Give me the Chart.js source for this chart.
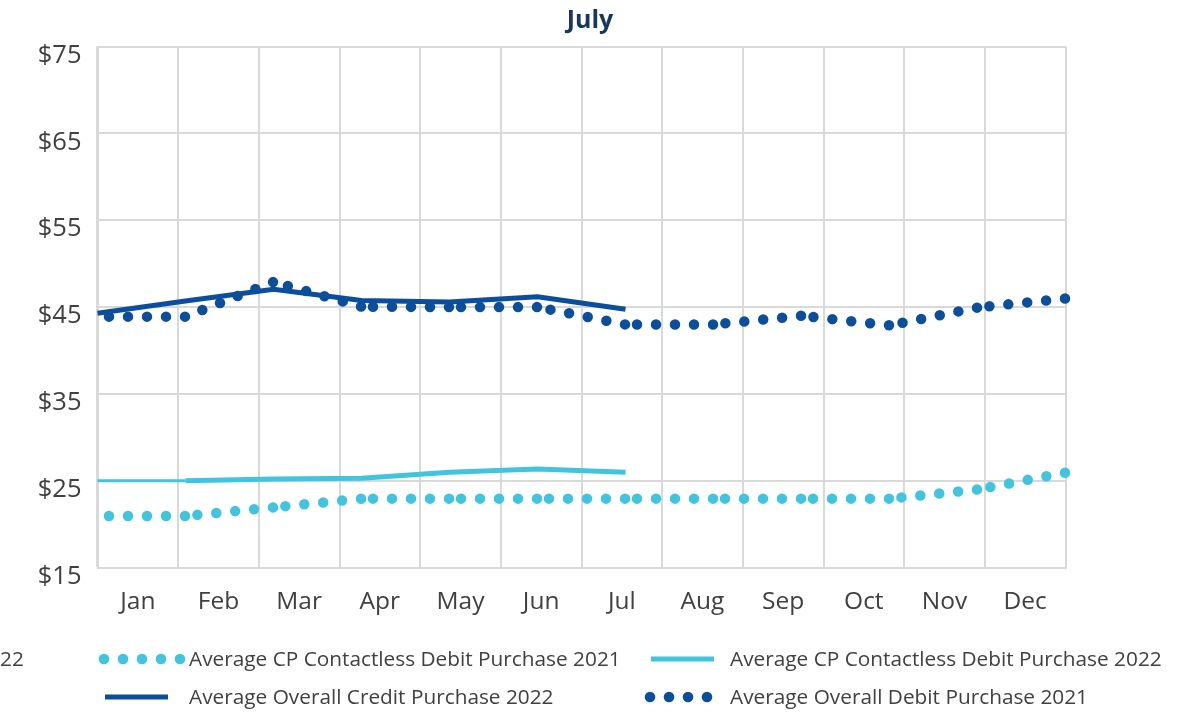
<!DOCTYPE html>
<html>
<head>
<meta charset="utf-8">
<script src="https://cdn.jsdelivr.net/npm/chart.js@4.4.0/dist/chart.umd.min.js"></script>
<style>
  html, body { margin: 0; padding: 0; background: #fff; }
  #wrap { position: relative; width: 1198px; height: 712px; overflow: hidden; font-family: "Open Sans", sans-serif; }
  #chart { position: absolute; left: 0; top: 0; }
  #title { position: absolute; left: -9px; top: 6px; width: 1198px; text-align: center; font-weight: bold; font-size: 25px; line-height: 25px; color: #17375e; }
  .leg { position: absolute; font-size: 20.8px; line-height: 20px; color: #404040; white-space: nowrap; }
  .sym { position: absolute; }
</style>
</head>
<body>
<div id="wrap">
  <canvas id="chart" width="1198" height="712"></canvas>
  <div id="title">July</div>
  <div class="leg" style="left:0;top:648px">22</div>
  <div id="legend"></div>
</div>
<script>
// month labels + series (one value per month, 2022 runs to July)
const months = ['Jan', 'Feb', 'Mar', 'Apr', 'May', 'Jun', 'Jul', 'Aug', 'Sep', 'Oct', 'Nov', 'Dec'];
const contactless2021 = [20.95, 20.95, 21.95, 22.95, 22.95, 22.95, 22.95, 22.95, 22.95, 22.95, 24.0, 25.95];
const contactless2022 = [25.0, 25.0, 25.2, 25.3, 26.0, 26.35, 26.0];
const credit2022 = [44.3, 45.7, 47.05, 45.75, 45.6, 46.2, 44.75];
const debit2021 = [43.9, 43.9, 47.9, 45.05, 45.0, 45.0, 43.0, 43.0, 44.0, 42.9, 44.95, 46.0];
const yTicks = [15, 25, 35, 45, 55, 65, 75];

const seriesNames = [
  'Average CP Contactless Debit Purchase 2021',
  'Average CP Contactless Debit Purchase 2022',
  'Average Overall Credit Purchase 2022',
  'Average Overall Debit Purchase 2021'
];

const LIGHT = '#40c4df';
const DARK = '#0b4f9c';
const GRID = '#d9d9d9';
const FONT = '"Open Sans", sans-serif';
const DOT_GAP = 19;

// excel restarts the round-dot pattern on each segment, with a dot sitting on every point
function dotOffset(ctx) {
  const len = Math.hypot(ctx.p1.x - ctx.p0.x, ctx.p1.y - ctx.p0.y) - 0.5;
  return (DOT_GAP - (len % DOT_GAP)) % DOT_GAP + (ctx.p0DataIndex % 2) * 0.001;
}

function dotted(label, data, color, order) {
  return {
    label, data, order,
    borderColor: color,
    borderWidth: 10.5,
    borderDash: [0, DOT_GAP],
    borderCapStyle: 'round',
    pointRadius: 0,
    fill: false,
    segment: { borderDashOffset: dotOffset }
  };
}

function solid(label, data, color, order, firstWidth) {
  return {
    label, data, order,
    borderColor: color,
    borderWidth: 5,
    borderCapStyle: 'butt',
    pointRadius: 0,
    fill: false,
    segment: { borderWidth: ctx => ctx.p0DataIndex === 0 ? firstWidth : 5 }
  };
}

new Chart(document.getElementById('chart'), {
  type: 'line',
  data: {
    labels: months,
    datasets: [
      dotted(seriesNames[0], contactless2021, LIGHT, 3),
      solid(seriesNames[1], contactless2022, LIGHT, 2, 3),
      solid(seriesNames[2], credit2022, DARK, 1, 5),
      dotted(seriesNames[3], debit2021, DARK, 0)
    ]
  },
  options: {
    responsive: false,
    animation: false,
    layout: { padding: { top: 46.5, right: 132.5, bottom: 0, left: 0 } },
    plugins: { legend: { display: false }, tooltip: { enabled: false }, title: { display: false } },
    scales: {
      x: { type: 'category', display: false, offset: false },
      months: {
        type: 'category',
        position: 'bottom',
        offset: true,
        grid: { offset: true, color: GRID, lineWidth: 2, drawTicks: false },
        border: { color: GRID, width: 2 },
        ticks: { color: '#404040', font: { family: FONT, size: 24.5 }, padding: 20, maxRotation: 0, autoSkip: false },
        afterFit: s => { s.height = 712 - 567.7; }
      },
      y: {
        min: 15,
        max: 75,
        grid: { color: GRID, lineWidth: 2, drawTicks: false },
        border: { color: GRID, width: 2 },
        ticks: {
          color: '#404040',
          font: { family: FONT, size: 25.5 },
          padding: 16,
          labelOffset: 9,
          callback: v => '$' + v
        },
        afterBuildTicks: s => { s.ticks = yTicks.map(v => ({ value: v })); },
        afterFit: s => { s.width = 97.5; }
      }
    }
  }
});

// legend, two columns like the original
const legendItems = [
  { name: seriesNames[0], color: LIGHT, kind: 'dots', dots: 5, left: 104, textLeft: 189, cy: 659 },
  { name: seriesNames[1], color: LIGHT, kind: 'line', left: 651, right: 714, textLeft: 730, cy: 659 },
  { name: seriesNames[2], color: DARK, kind: 'line', left: 105, right: 168, textLeft: 189, cy: 697 },
  { name: seriesNames[3], color: DARK, kind: 'dots', dots: 4, left: 650, textLeft: 730, cy: 697 }
];

const legend = document.getElementById('legend');
legendItems.forEach(it => {
  let svg;
  if (it.kind === 'dots') {
    const w = (it.dots - 1) * DOT_GAP + 12;
    let circles = '';
    for (let i = 0; i < it.dots; i++) {
      circles += `<circle cx="${6 + i * DOT_GAP}" cy="6" r="5.3" fill="${it.color}"/>`;
    }
    svg = `<svg class="sym" width="${w}" height="12" style="left:${it.left - 6}px;top:${it.cy - 6}px">${circles}</svg>`;
  } else {
    const w = it.right - it.left;
    svg = `<svg class="sym" width="${w}" height="6" style="left:${it.left}px;top:${it.cy - 3}px"><rect x="0" y="0.5" width="${w}" height="5" fill="${it.color}"/></svg>`;
  }
  legend.insertAdjacentHTML('beforeend', svg +
    `<div class="leg" style="left:${it.textLeft}px;top:${it.cy - 11}px">${it.name}</div>`);
});
</script>
</body>
</html>
